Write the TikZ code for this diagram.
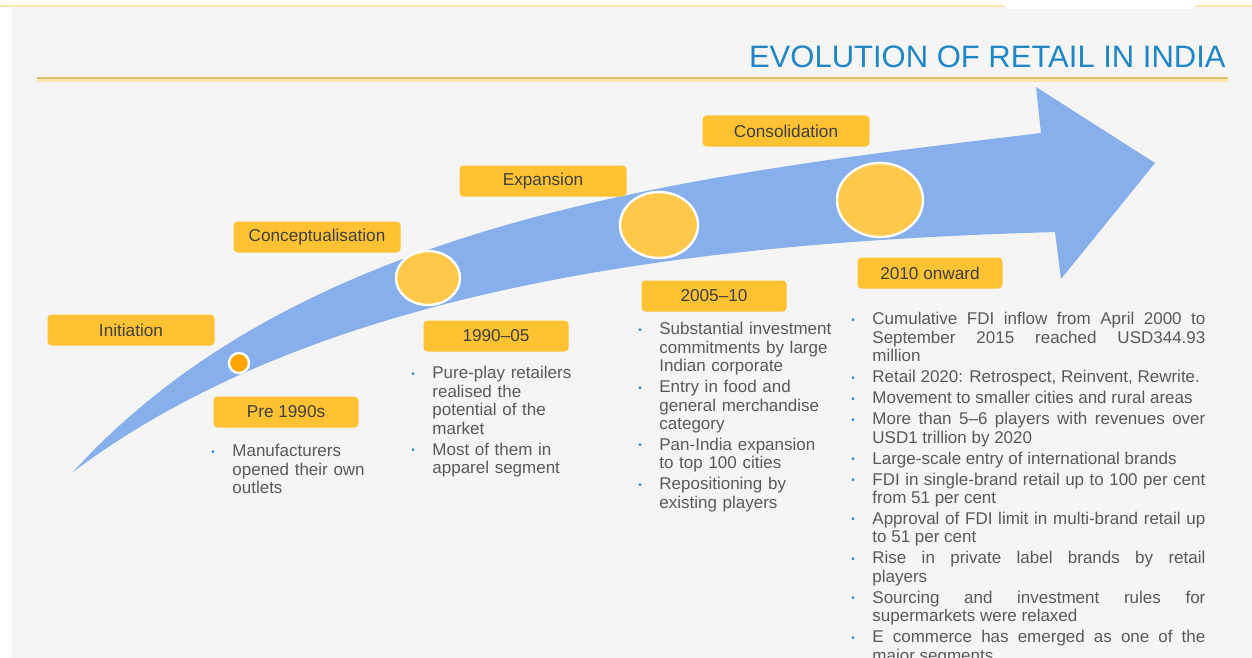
\documentclass[tikz,border=0pt]{standalone}
\usepackage{fontspec}
\setmainfont{Liberation Sans}
\usepackage{xcolor}
\usepackage{tikz}
\usetikzlibrary{shapes.geometric}
\definecolor{PageGray}{HTML}{F5F5F5}
\definecolor{RuleGold}{HTML}{E3BF6E}
\definecolor{TopGold}{HTML}{FBE7AE}
\definecolor{TitleBlue}{HTML}{1F87C7}
\definecolor{ArrowBlue}{HTML}{86AFEB}
\definecolor{BoxGold}{HTML}{FFC233}
\definecolor{DotGold}{HTML}{FFC84B}
\definecolor{DotOrange}{HTML}{FFA300}
\definecolor{BoxText}{HTML}{3F3F3F}
\definecolor{BodyGray}{HTML}{595959}
\definecolor{BulletBlue}{HTML}{2A8FD0}

\newlength{\bulletw}\setlength{\bulletw}{10.5pt}
% one bulleted entry, later lines hang under the text
\newcommand{\bitem}[1]{\par\begingroup\let\\\newline
  \hyphenpenalty=10000\exhyphenpenalty=10000
  \noindent\hangindent=\bulletw\hangafter=1
  \makebox[\bulletw][l]{\raisebox{0.8pt}{\textcolor{BulletBlue}{\fontsize{5}{5}\selectfont\textbullet}}}#1\par
  \endgroup\vspace{1.3pt}}

\begin{document}
\begin{tikzpicture}[x=0.5pt,y=-0.5pt,
    stage/.style={fill=BoxGold,rounded corners=2pt,inner sep=0pt,
      minimum height=15.5pt,text=BoxText,font=\fontsize{8.6}{9.2}\selectfont},
    widestage/.style={stage,minimum width=83.5pt},
    narrowstage/.style={stage,minimum width=72.5pt},
    stop/.style={ellipse,fill=DotGold,draw=white,line width=1.2pt,inner sep=0pt},
    points/.style={anchor=north west,inner sep=0pt,text=BodyGray,
      font=\fontsize{8.5}{9.2}\selectfont}]
    \useasboundingbox (0,0) rectangle (1252,658);
    \fill[PageGray] (12,6) rectangle (1252,658);
    \draw[TopGold,line width=0.8pt] (0,6) -- (1252,6);
    \fill[white] (1005,0) rectangle (1195,9);
    % title and rule
    \node[anchor=base east,inner sep=0pt,text=TitleBlue,
      font=\fontsize{15.5}{18}\selectfont] (title) at (1226,68)
      {EVOLUTION OF RETAIL IN INDIA};
    \draw[TopGold,line width=1.6pt] (37,80) -- (1228,80);
    \draw[RuleGold,line width=1pt] (37,78) -- (1228,78);
    % the big curved arrow
    \fill[ArrowBlue] (73,472) .. controls (303,219) and (691,175) .. (1041,133)
      -- (1036,87) -- (1155,163) -- (1061,279) -- (1055,232)
      .. controls (705,242) and (323,284) .. cycle;
    % stops on the arrow
    \node[circle,fill=DotOrange,draw=white,line width=1.2pt,minimum size=10pt,
      inner sep=0pt] (dotpre) at (239,363) {};
    \node[stop,minimum width=32pt,minimum height=27pt] (dotearly) at (428,278) {};
    \node[stop,minimum width=39pt,minimum height=33pt] (dotmid) at (659,225) {};
    \node[stop,minimum width=43pt,minimum height=37pt] (dotlate) at (880,200) {};
    % stage labels
    \node[widestage] (init) at (131,330) {Initiation};
    \node[widestage] (concept) at (317,237) {Conceptualisation};
    \node[widestage] (expan) at (543,181) {Expansion};
    \node[widestage] (consol) at (786,131) {Consolidation};
    \node[narrowstage] (pre) at (286,412) {Pre 1990s};
    \node[narrowstage] (early) at (496,336) {1990–05};
    \node[narrowstage] (mid) at (714,296) {2005–10};
    \node[narrowstage] (late) at (930,273) {2010 onward};
    % what happened in each period
    \node[points,text width=110pt] (prelist) at (211,438) {%
      \bitem{Manufacturers\\opened their own\\outlets}};
    \node[points,text width=110pt] (earlylist) at (411,360) {%
      \bitem{Pure-play retailers\\realised the\\potential of the\\market}
      \bitem{Most of them in\\apparel segment}};
    \node[points,text width=110pt] (midlist) at (638,316) {%
      \bitem{Substantial investment\\commitments by large\\Indian corporate}
      \bitem{Entry in food and\\general merchandise\\category}
      \bitem{Pan-India expansion\\to top 100 cities}
      \bitem{Repositioning by\\existing players}};
    \node[points,text width=177pt,align=justify] (latelist) at (851,306) {%
      \bitem{Cumulative FDI inflow from April 2000 to\linebreak
        September 2015 reached USD344.93\linebreak million}
      \bitem{Retail 2020: Retrospect, Reinvent, Rewrite.}
      \bitem{Movement to smaller cities and rural areas}
      \bitem{More than 5–6 players with revenues over\linebreak USD1 trillion by 2020}
      \bitem{Large-scale entry of international brands}
      \bitem{FDI in single-brand retail up to 100 per cent\linebreak from 51 per cent}
      \bitem{Approval of FDI limit in multi-brand retail up\linebreak to 51 per cent}
      \bitem{Rise in private label brands by retail\linebreak players}
      \bitem{Sourcing and investment rules for\linebreak supermarkets were relaxed}
      \bitem{E commerce has emerged as one of the\linebreak major segments}};
  \end{tikzpicture}
\end{document}
